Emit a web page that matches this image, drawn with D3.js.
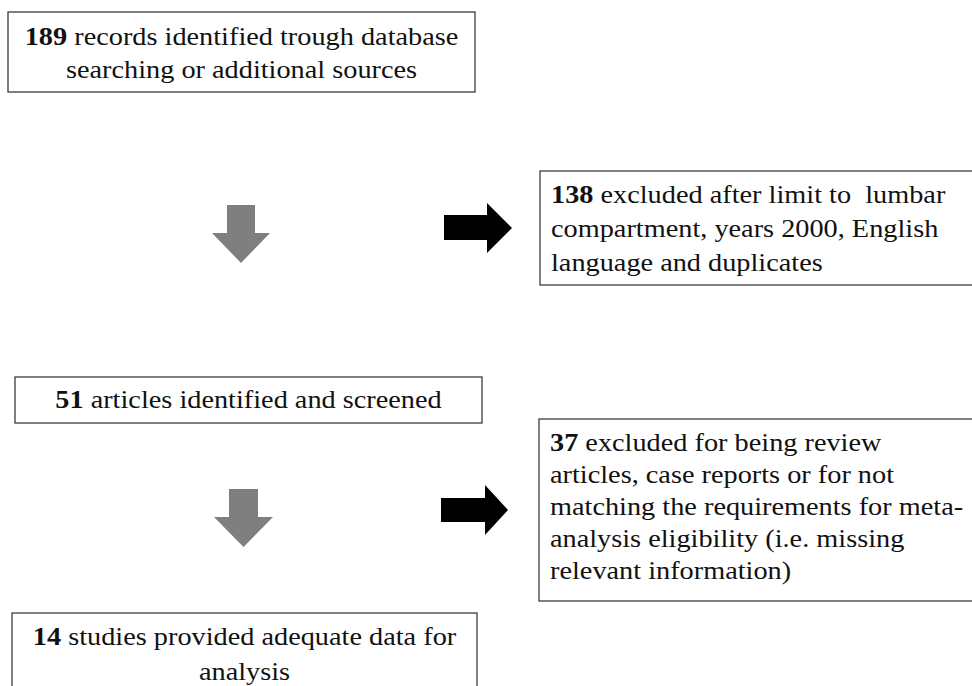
<!DOCTYPE html>
<html>
<head>
<meta charset="utf-8">
<script src="https://cdn.jsdelivr.net/npm/d3@7"></script>
<style>
  body { margin: 0; background: #fff; }
  svg text { font-family: "Liberation Serif", "Times New Roman", serif; font-size: 25.5px; fill: #111; white-space: pre; }
</style>
</head>
<body>
<div id="vis"></div>
<script>
const WIDTH = 972;
const HEIGHT = 686;
const STRETCH = 1.11; // the source picture is a bit stretched sideways

// flow steps: count in bold, then the rest of the text, split by line
const counts = [189, 138, 51, 37, 14];
const lines = [
  [" records identified trough database", "searching or additional sources"],
  [" excluded after limit to  lumbar", "compartment, years 2000, English", "language and duplicates"],
  [" articles identified and screened"],
  [" excluded for being review", "articles, case reports or for not", "matching the requirements for meta-", "analysis eligibility (i.e. missing", "relevant information)"],
  [" studies provided adequate data for", "analysis"]
];

// layout of each box (x0, x1, y0, y1, text anchor, first baseline, line step)
const boxes = [
  { x0: 8, x1: 475, y0: 12, y1: 92, anchor: "middle", base: 45, step: 33 },
  { x0: 540, x1: 980, y0: 171, y1: 285, anchor: "start", base: 203, step: 34 },
  { x0: 15, x1: 482, y0: 377, y1: 423, anchor: "middle", base: 408, step: 34 },
  { x0: 539, x1: 980, y0: 419, y1: 601, anchor: "start", base: 451, step: 32 },
  { x0: 12, x1: 477, y0: 613, y1: 700, anchor: "middle", base: 645, step: 35 }
];

// arrows: direction, shaft extents, head extents, tip
const arrows = [
  { dir: "down", color: "#7f7f7f", s0: 227, s1: 255, top: 205, h0: 212, h1: 270, hy: 233, tip: 263 },
  { dir: "down", color: "#7f7f7f", s0: 229, s1: 258, top: 489, h0: 214, h1: 273, hy: 517, tip: 547 },
  { dir: "right", color: "#000", s0: 215, s1: 240, left: 444, h0: 203, h1: 253, hx: 487, tip: 512 },
  { dir: "right", color: "#000", s0: 498, s1: 522, left: 441, h0: 485, h1: 535, hx: 485, tip: 508 }
];

const svg = d3.select("#vis")
  .append("svg")
  .attr("width", WIDTH)
  .attr("height", HEIGHT);

const g = svg.selectAll(".box")
  .data(boxes)
  .enter()
  .append("g")
  .attr("class", "box");

g.append("rect")
  .attr("x", (d) => d.x0)
  .attr("y", (d) => d.y0)
  .attr("width", (d) => d.x1 - d.x0)
  .attr("height", (d) => d.y1 - d.y0)
  .attr("fill", "#fff")
  .attr("stroke", "#3c3c3c")
  .attr("stroke-width", 1.3);

g.each(function (d, i) {
  const tx = d.anchor === "middle" ? (d.x0 + d.x1) / 2 : d.x0 + 11;
  lines[i].forEach((line, j) => {
    const t = d3.select(this)
      .append("text")
      .attr("transform", "translate(" + tx + "," + (d.base + j * d.step) + ") scale(" + STRETCH + ",1)")
      .attr("text-anchor", d.anchor);
    if (j === 0) {
      t.append("tspan").attr("font-weight", "bold").text(counts[i]);
    }
    t.append("tspan").text(line);
  });
});

function arrowPath(a) {
  const p = d3.path();
  if (a.dir === "down") {
    const cx = (a.h0 + a.h1) / 2;
    p.moveTo(a.s0, a.top);
    p.lineTo(a.s1, a.top);
    p.lineTo(a.s1, a.hy);
    p.lineTo(a.h1, a.hy);
    p.lineTo(cx, a.tip);
    p.lineTo(a.h0, a.hy);
    p.lineTo(a.s0, a.hy);
  } else {
    const cy = (a.h0 + a.h1) / 2;
    p.moveTo(a.left, a.s0);
    p.lineTo(a.hx, a.s0);
    p.lineTo(a.hx, a.h0);
    p.lineTo(a.tip, cy);
    p.lineTo(a.hx, a.h1);
    p.lineTo(a.hx, a.s1);
    p.lineTo(a.left, a.s1);
  }
  p.closePath();
  return p.toString();
}

svg.selectAll(".arrow")
  .data(arrows)
  .enter()
  .append("path")
  .attr("class", "arrow")
  .attr("d", arrowPath)
  .attr("fill", (d) => d.color);
</script>
</body>
</html>
